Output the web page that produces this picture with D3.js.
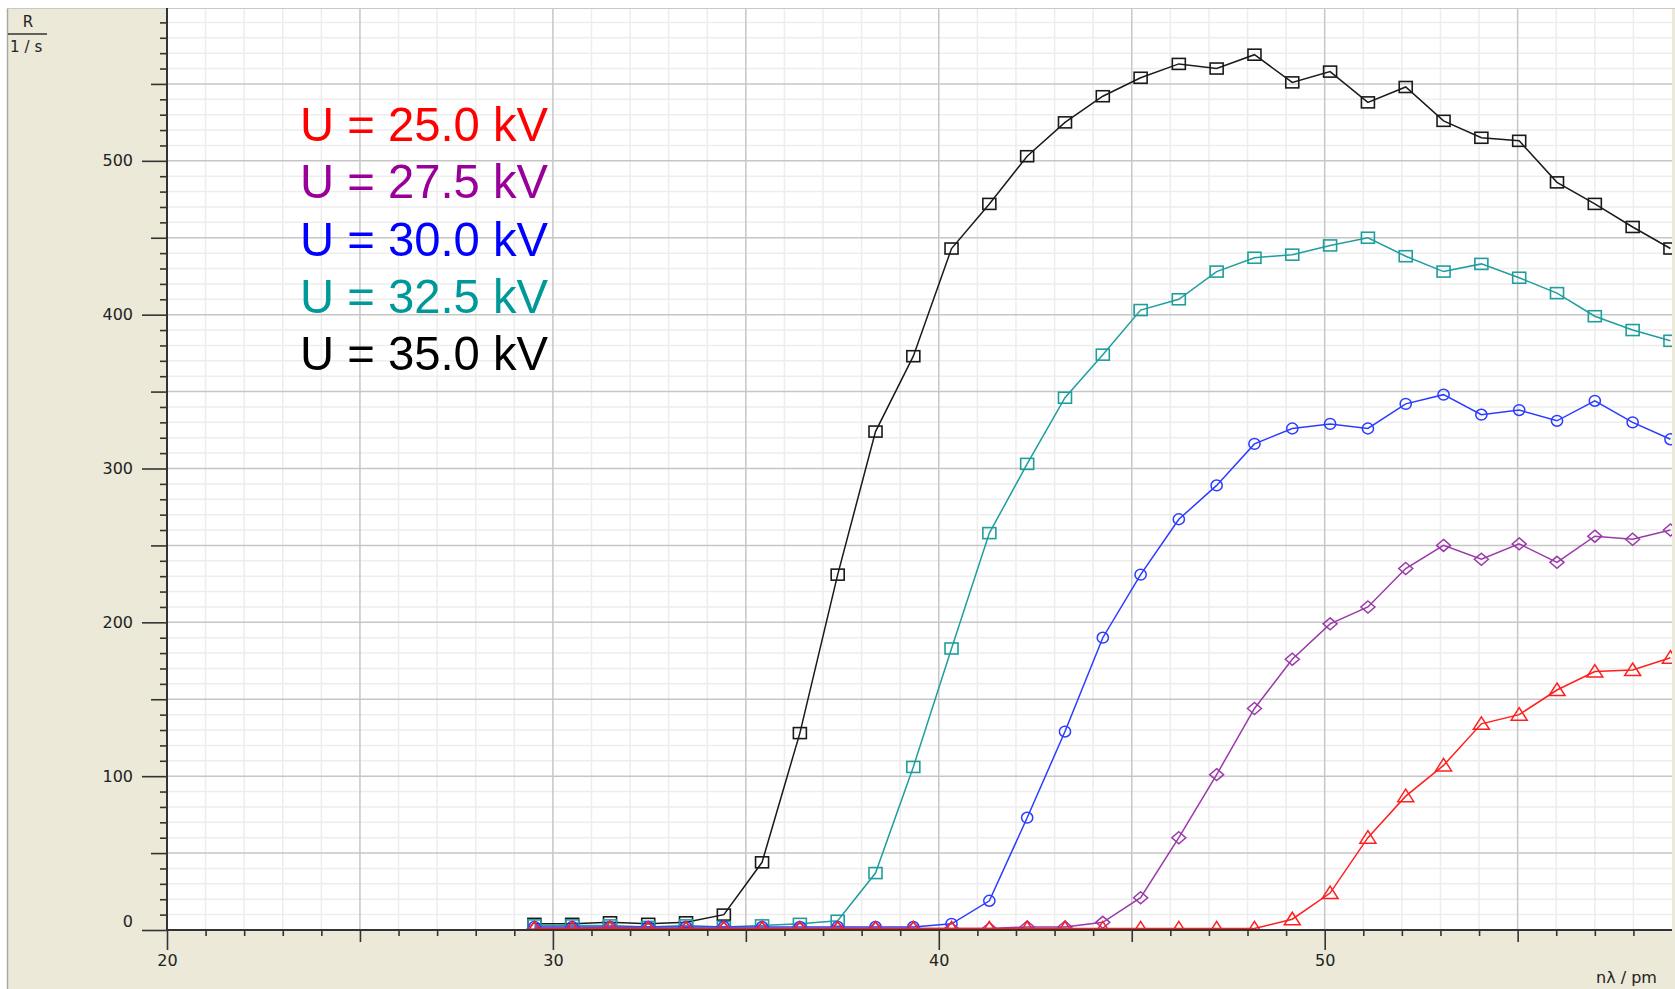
<!DOCTYPE html>
<html>
<head>
<meta charset="utf-8">
<script src="https://cdn.jsdelivr.net/npm/d3@7"></script>
<style>
  html, body { margin: 0; padding: 0; background: #ffffff; }
  svg { display: block; }
  .tick text { font-family: "DejaVu Sans", sans-serif; font-size: 16px; fill: #222; }
</style>
</head>
<body>
<svg id="chart" width="1675" height="989"></svg>
<script>
// ---- data ----
const lambdaPm = [29.52,30.50,31.48,32.47,33.45,34.43,35.42,36.40,37.38,38.36,39.34,40.33,41.31,42.29,43.27,44.25,45.23,46.22,47.20,48.18,49.16,50.14,51.12,52.10,53.08,54.06,55.04,56.02,57.00,57.98,58.96];
const rate35  = [4,4,5,4,5,10,44,128,231,324,373,443,472,503,525,542,554,563,560,569,551,558,538,548,526,515,513,486,472,457,443];
const rate325 = [3,3,3,2,3,2,3,4,6,37,106,183,258,303,346,374,403,410,428,437,439,445,450,438,428,433,424,414,399,390,383];
const rate30  = [2,2,2,2,2,2,2,2,2,2,2,4,19,73,129,190,231,267,289,316,326,329,326,342,348,335,338,331,344,330,319];
const rate275 = [1,1,2,1,1,1,1,1,1,1,1,1,1,2,2,5,21,60,101,144,176,199,210,235,250,241,251,239,256,254,260];
const rate25  = [1,1,1,1,1,1,1,1,1,1,1,1,1,1,1,1,1,1,1,1,7,24,60,87,107,134,140,156,168,169,177];
const legendLabels = ["U = 25.0 kV","U = 27.5 kV","U = 30.0 kV","U = 32.5 kV","U = 35.0 kV"];
const xLabelTicks = [20,30,40,50];
const yLabelTicks = [0,100,200,300,400,500];

// ---- layout ----
const svg = d3.select("#chart");
const L = 167, R = 1672, T = 7, B = 930;
const x = d3.scaleLinear().domain([20,59]).range([L,R]);
const y = d3.scaleLinear().domain([0,600]).range([B,T]);

// panel
svg.append("rect").attr("x",7).attr("y",8).attr("width",1668).attr("height",981).attr("fill","#ece9d8");
svg.append("line").attr("x1",7.5).attr("x2",7.5).attr("y1",8).attr("y2",989).attr("stroke","#a9a9a9").attr("stroke-width",1.5);
svg.append("line").attr("x1",7).attr("x2",1675).attr("y1",8.5).attr("y2",8.5).attr("stroke","#c8c8c8").attr("stroke-width",1);
svg.append("rect").attr("x",L).attr("y",9).attr("width",R-L).attr("height",B-9).attr("fill","#ffffff");

svg.append("defs").append("clipPath").attr("id","plotclip")
  .append("rect").attr("x",L).attr("y",9).attr("width",R-L).attr("height",B-9);

const grid = svg.append("g").attr("clip-path","url(#plotclip)");
const xMinor = d3.range(21,59).filter(v => v % 5 !== 0);
const xMajor = d3.range(25,59,5);
const yMinor = d3.range(10,600,10).filter(v => v % 50 !== 0);
const yMajor = d3.range(50,600,50);
grid.selectAll(".vmin").data(xMinor).join("line")
  .attr("x1",d=>x(d)).attr("x2",d=>x(d)).attr("y1",9).attr("y2",B)
  .attr("stroke","#ededed").attr("stroke-width",1.5);
grid.selectAll(".hmin").data(yMinor).join("line")
  .attr("x1",L).attr("x2",R).attr("y1",d=>y(d)).attr("y2",d=>y(d))
  .attr("stroke","#ededed").attr("stroke-width",1.5);
grid.selectAll(".vmaj").data(xMajor).join("line")
  .attr("x1",d=>x(d)).attr("x2",d=>x(d)).attr("y1",9).attr("y2",B)
  .attr("stroke","#c6c6c6").attr("stroke-width",1.5);
grid.selectAll(".hmaj").data(yMajor).join("line")
  .attr("x1",L).attr("x2",R).attr("y1",d=>y(d)).attr("y2",d=>y(d))
  .attr("stroke","#c6c6c6").attr("stroke-width",1.5);

// legend
const legendColors = ["#ff0000","#990099","#0000ff","#009999","#000000"];
const lg = svg.append("g");
legendLabels.forEach((t,i) => {
  lg.append("text").attr("x",300).attr("y",141 + i*57.3)
    .attr("font-family","'Liberation Sans', Arial, sans-serif").attr("font-size",49)
    .attr("textLength",248).attr("lengthAdjust","spacingAndGlyphs")
    .attr("fill",legendColors[i]).text(t);
});

// series
const markers = {
  square: (g,c) => g.append("rect").attr("x",-6.5).attr("y",-5.5).attr("width",13).attr("height",11).attr("fill","none").attr("stroke",c).attr("stroke-width",1.6),
  circle: (g,c) => g.append("ellipse").attr("rx",5.6).attr("ry",5.4).attr("fill","none").attr("stroke",c).attr("stroke-width",1.5),
  diamond: (g,c) => g.append("path").attr("d","M0,-6L7,0L0,6L-7,0Z").attr("fill","none").attr("stroke",c).attr("stroke-width",1.5),
  triangle: (g,c) => g.append("path").attr("d","M0,-7L8,5.5L-8,5.5Z").attr("fill","none").attr("stroke",c).attr("stroke-width",1.5)
};
const series = [
  {vals: rate35,  line:"#1a1a1a", mark:"#1a1a1a", shape:"square"},
  {vals: rate325, line:"#1f9e9e", mark:"#1f9e9e", shape:"square"},
  {vals: rate30,  line:"#2b3cff", mark:"#2b3cff", shape:"circle"},
  {vals: rate275, line:"#9a3aa8", mark:"#9a3aa8", shape:"diamond"},
  {vals: rate25,  line:"#ff1f1f", mark:"#ff1f1f", shape:"triangle"}
];
const plot = svg.append("g").attr("clip-path","url(#plotclip)");
const lineGen = d3.line().x((d,i)=>x(lambdaPm[i])).y(d=>y(d));
series.forEach(s => {
  plot.append("path").datum(s.vals).attr("d",lineGen)
    .attr("fill","none").attr("stroke",s.line).attr("stroke-width",1.5);
  s.vals.forEach((v,i) => {
    const g = plot.append("g").attr("transform",`translate(${x(lambdaPm[i])},${y(v)})`);
    markers[s.shape](g, s.mark);
  });
});

// axes
function styleAxis(g){
  g.selectAll(".domain").remove();
  g.selectAll(".tick line").attr("stroke","#333").attr("stroke-width",1.6);
}
// x axis
svg.append("g").attr("transform",`translate(0,${B})`)
  .call(d3.axisBottom(x).tickValues(d3.range(21,59).filter(v=>v%5!==0)).tickSize(6).tickFormat(""))
  .call(styleAxis);
svg.append("g").attr("transform",`translate(0,${B})`)
  .call(d3.axisBottom(x).tickValues([25,35,45,55]).tickSize(12).tickFormat(""))
  .call(styleAxis);
svg.append("g").attr("transform",`translate(0,${B})`)
  .call(d3.axisBottom(x).tickValues(xLabelTicks).tickSize(20).tickPadding(5).tickFormat(d3.format("d")))
  .call(styleAxis);
// y axis
svg.append("g").attr("transform",`translate(${L},0)`)
  .call(d3.axisLeft(y).tickValues(d3.range(10,600,10).filter(v=>v%50!==0)).tickSize(7).tickFormat(""))
  .call(styleAxis);
svg.append("g").attr("transform",`translate(${L},0)`)
  .call(d3.axisLeft(y).tickValues([50,150,250,350,450,550]).tickSize(16).tickFormat(""))
  .call(styleAxis);
const yAx = svg.append("g").attr("transform",`translate(${L},0)`)
  .call(d3.axisLeft(y).tickValues(yLabelTicks).tickSize(25).tickPadding(9).tickFormat(d3.format("d")))
  .call(styleAxis);
yAx.selectAll(".tick text").filter(d => d === 0).attr("dy","-0.22em");
svg.selectAll(".tick text").attr("fill","#222");

// axis lines
svg.append("line").attr("x1",L).attr("x2",L).attr("y1",8).attr("y2",B+1).attr("stroke","#333").attr("stroke-width",2);
svg.append("line").attr("x1",L-1).attr("x2",R).attr("y1",B).attr("y2",B).attr("stroke","#333").attr("stroke-width",2);

// axis titles
const tf = "'DejaVu Sans', sans-serif";
svg.append("text").attr("x",28).attr("y",27).attr("text-anchor","middle")
  .attr("font-family",tf).attr("font-size",15).attr("fill","#222").text("R");
svg.append("line").attr("x1",8).attr("x2",47).attr("y1",34).attr("y2",34).attr("stroke","#333").attr("stroke-width",1.3);
svg.append("text").attr("x",10).attr("y",52)
  .attr("font-family",tf).attr("font-size",15).attr("letter-spacing",5).attr("fill","#222").text("1/s");
svg.append("text").attr("x",1596).attr("y",983)
  .attr("font-family",tf).attr("font-size",16).attr("fill","#222").text("nλ / pm");
</script>
</body>
</html>
